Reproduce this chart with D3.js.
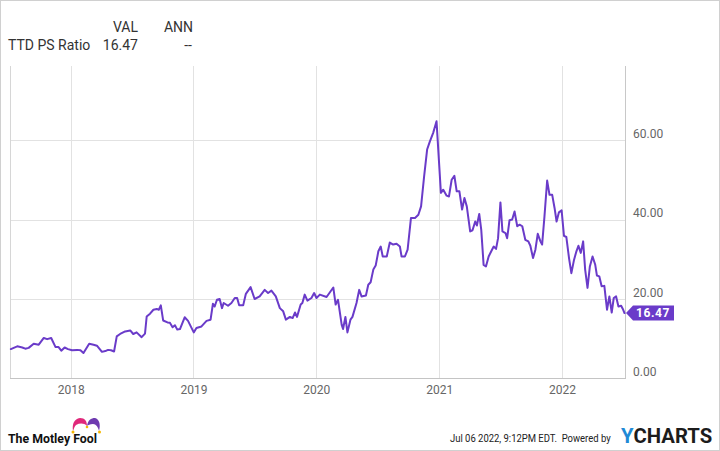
<!DOCTYPE html>
<html>
<head>
<meta charset="utf-8">
<script src="https://cdn.jsdelivr.net/npm/d3@7"></script>
<style>
  html, body { margin: 0; padding: 0; background: #fff; }
  svg { display: block; font-family: Roboto, "Noto Sans", sans-serif; }
</style>
</head>
<body>
<svg id="chart" width="720" height="451"></svg>
<script>
// ---- data ----
const seriesName = "TTD PS Ratio";
const lastValue = "16.47";
const annValue = "--";
const dates = [
  "2017-07-07","2017-07-26","2017-08-10","2017-08-19","2017-08-29","2017-09-13","2017-09-28","2017-10-13","2017-10-23","2017-11-04",
  "2017-11-17","2017-11-26","2017-12-04","2017-12-14","2017-12-24",
  "2018-01-05","2018-01-20","2018-01-30","2018-02-08","2018-02-25","2018-03-10","2018-03-20","2018-04-04","2018-04-14","2018-04-22",
  "2018-05-01","2018-05-10","2018-05-18","2018-05-28","2018-06-12","2018-06-27","2018-07-06","2018-07-16","2018-07-31","2018-08-10",
  "2018-08-15","2018-08-25","2018-09-04","2018-09-14","2018-09-20","2018-09-26","2018-10-03","2018-10-16","2018-10-23","2018-10-31",
  "2018-11-07","2018-11-14","2018-11-22","2018-12-06","2018-12-16",
  "2019-01-02","2019-01-10","2019-01-25","2019-02-09","2019-02-21","2019-02-28","2019-03-05","2019-03-12","2019-03-20","2019-03-27",
  "2019-04-01","2019-04-14","2019-04-24","2019-05-04","2019-05-11","2019-05-17","2019-05-29","2019-06-06","2019-06-20","2019-07-02",
  "2019-07-17","2019-08-01","2019-08-11","2019-08-21","2019-09-03","2019-09-15","2019-09-25","2019-10-03","2019-10-15","2019-10-23",
  "2019-10-30","2019-11-05","2019-11-16","2019-11-21","2019-11-28","2019-12-06","2019-12-18","2019-12-26",
  "2020-01-02","2020-01-12","2020-02-01","2020-02-11","2020-02-21","2020-02-28","2020-03-06","2020-03-17","2020-03-21","2020-03-28",
  "2020-04-03","2020-04-12","2020-04-18","2020-04-30","2020-05-08","2020-05-15","2020-05-28","2020-06-04","2020-06-11","2020-06-19",
  "2020-06-26","2020-07-04","2020-07-11","2020-07-17","2020-07-29","2020-08-07","2020-08-17","2020-08-27","2020-09-06","2020-09-11",
  "2020-09-21","2020-09-29","2020-10-09","2020-10-21","2020-10-31","2020-11-08","2020-11-17","2020-11-26","2020-12-04","2020-12-14",
  "2020-12-24",
  "2021-01-06","2021-01-13","2021-01-23","2021-01-30","2021-02-07","2021-02-15","2021-02-22","2021-03-02","2021-03-10","2021-03-17",
  "2021-03-24","2021-04-03","2021-04-10","2021-04-18","2021-04-23","2021-04-30","2021-05-06","2021-05-13","2021-05-20","2021-05-28",
  "2021-06-07","2021-06-12","2021-06-19","2021-06-25","2021-07-02","2021-07-08","2021-07-17","2021-07-22","2021-07-29","2021-08-06",
  "2021-08-13","2021-08-21","2021-08-28","2021-09-05","2021-09-14","2021-09-23","2021-09-29","2021-10-07","2021-10-14","2021-10-21",
  "2021-10-29","2021-11-03","2021-11-10","2021-11-18","2021-11-25","2021-12-03","2021-12-10","2021-12-16","2021-12-23","2021-12-31",
  "2022-01-07","2022-01-14","2022-01-22","2022-01-29","2022-02-06","2022-02-13","2022-02-19","2022-02-26","2022-03-05","2022-03-11",
  "2022-03-18","2022-03-25","2022-04-02","2022-04-10","2022-04-15","2022-04-22","2022-04-29","2022-05-07","2022-05-15","2022-05-22",
  "2022-05-29","2022-06-04","2022-06-11","2022-06-18","2022-06-26","2022-07-01","2022-07-06"
];
const values = [
  7.4,8.1,7.8,7.5,7.7,8.75,8.5,10.2,9.9,10.2,
  7.9,7.9,7.0,7.8,7.4,
  7.1,7.2,7.1,6.4,8.75,8.5,8.25,6.7,6.9,7.2,
  7.1,6.8,10.6,11.2,11.85,12.1,11.2,11.6,10.4,11.3,
  15.6,16.3,17.3,17.5,17.3,18.4,14.6,14.1,14.0,12.9,
  13.4,12.3,12.45,15.4,14.5,
  11.6,12.7,13.1,14.5,14.8,18.8,18.1,19.8,20.0,17.7,
  19.0,18.3,19.0,20.25,20.25,18.4,18.4,21.3,23.0,20.0,
  20.65,22.3,21.5,22.1,20.65,17.7,16.9,14.8,15.5,15.2,
  16.6,15.5,18.6,19.0,21.1,19.6,20.25,21.5,
  20.25,21.1,20.5,21.7,22.9,18.6,19.8,13.5,12.45,15.5,
  11.6,14.8,15.5,19.0,22.3,20.65,20.9,23.6,24.2,27.4,
  28.4,32.0,33.2,30.7,30.7,34.2,33.7,33.9,33.2,30.7,
  30.7,32.4,40.4,40.4,41.2,43.3,50.8,57.6,59.6,61.8,
  64.7,
  46.7,47.5,46.0,45.8,50.0,51.0,47.1,47.1,42.5,45.4,
  43.3,37.0,37.3,39.5,38.5,41.4,37.4,28.6,28.2,30.7,
  32.4,33.2,32.6,35.3,44.3,37.0,36.6,35.3,39.8,40.0,
  42.0,38.3,38.7,38.3,34.9,34.5,33.4,30.3,32.4,36.4,
  34.5,33.7,40.8,49.8,46.2,46.2,42.9,39.5,41.8,42.3,
  35.9,35.6,30.3,26.5,29.9,32.0,33.4,31.6,34.5,27.4,
  22.8,28.2,30.7,28.6,25.9,25.7,23.2,23.3,17.3,20.65,
  16.6,20.25,20.65,18.1,18.3,17.5,16.47
];
const yTicks = [0, 20, 40, 60];
const xTickYears = ["2018", "2019", "2020", "2021", "2022"];
const domainStart = "2017-07-06";
const domainEnd = "2022-07-06";

// ---- layout ----
const W = 720, H = 451;
const plot = { left: 10, right: 625, top: 66, bottom: 378.5 };
const lineColor = "#6a3bc9";
const parse = d3.timeParse("%Y-%m-%d");
const data = dates.map((d, i) => ({ date: parse(d), value: values[i] }));

const svg = d3.select("#chart");

// outer frame
svg.append("rect").attr("x", 0.5).attr("y", 0.5).attr("width", W - 1).attr("height", H - 1)
  .attr("fill", "#fff").attr("stroke", "#d0d0d0");

const x = d3.scaleTime()
  .domain([parse(domainStart), parse(domainEnd)])
  .range([plot.left + 0.5, plot.right - 0.5]);
const y = d3.scaleLinear().domain([0, 60]).range([plot.bottom, 140]);

// horizontal grid
const gridColor = "#e2e2e2";
svg.append("g").selectAll("line").data(yTicks.filter(t => t > 0)).join("line")
  .attr("x1", plot.left).attr("x2", plot.right)
  .attr("y1", d => Math.round(y(d)) + 0.5).attr("y2", d => Math.round(y(d)) + 0.5)
  .attr("stroke", gridColor).attr("stroke-width", 1);

// vertical grid at year starts
const yearDates = xTickYears.map(s => parse(s + "-01-01"));
svg.append("g").selectAll("line").data(yearDates).join("line")
  .attr("x1", d => Math.round(x(d)) + 0.5).attr("x2", d => Math.round(x(d)) + 0.5)
  .attr("y1", plot.top).attr("y2", plot.bottom)
  .attr("stroke", gridColor).attr("stroke-width", 1);

// plot frame: left, right, bottom
svg.append("line").attr("x1", plot.left + 0.5).attr("x2", plot.left + 0.5)
  .attr("y1", plot.top).attr("y2", plot.bottom).attr("stroke", "#d6d6d6");
svg.append("line").attr("x1", plot.right + 0.5).attr("x2", plot.right + 0.5)
  .attr("y1", plot.top).attr("y2", plot.bottom).attr("stroke", "#c8c8c8");
svg.append("line").attr("x1", plot.left).attr("x2", plot.right + 1)
  .attr("y1", Math.round(plot.bottom) - 0.5).attr("y2", Math.round(plot.bottom) - 0.5)
  .attr("stroke", "#c4c4c4");

// x axis labels
const xAxis = d3.axisBottom(x).tickValues(yearDates).tickFormat(d3.timeFormat("%Y")).tickSize(0).tickPadding(0);
const gx = svg.append("g").attr("transform", `translate(0, ${plot.bottom + 4})`).call(xAxis);
gx.select(".domain").remove();
gx.selectAll("text").attr("font-size", 12).attr("fill", "#666").attr("font-family", "Roboto")
  .attr("dy", "0.95em");

// y axis labels (right side, above the grid line)
const yAxis = d3.axisRight(y).tickValues(yTicks).tickFormat(d3.format(".2f")).tickSize(0).tickPadding(0);
const gy = svg.append("g").attr("transform", `translate(${plot.right + 8}, 0)`).call(yAxis);
gy.select(".domain").remove();
gy.selectAll("text").attr("font-size", 12).attr("fill", "#666").attr("font-family", "Roboto")
  .attr("dy", "-0.22em");

// line
const line = d3.line().x(d => x(d.date)).y(d => y(d.value)).curve(d3.curveLinear);
svg.append("path").datum(data).attr("d", line)
  .attr("fill", "none").attr("stroke", lineColor).attr("stroke-width", 2)
  .attr("stroke-linejoin", "round").attr("stroke-linecap", "round");

// last value flag
const last = data[data.length - 1];
const ly = y(last.value);
const lx = x(last.date) + 1.5;
const fg = svg.append("g");
fg.append("path")
  .attr("d", `M${lx},${ly} L${lx + 7},${ly - 7.5} L${lx + 48},${ly - 7.5} L${lx + 48},${ly + 7.5} L${lx + 7},${ly + 7.5} Z`)
  .attr("fill", lineColor);
fg.append("text").attr("x", lx + 10).attr("y", ly).attr("dy", "0.36em")
  .attr("font-size", 12).attr("font-weight", "bold").attr("fill", "#fff")
  .attr("letter-spacing", "0.6px").text(lastValue);

// header table
const hdr = svg.append("g").attr("font-size", 14).attr("fill", "#333").attr("font-family", "Roboto");
hdr.append("text").attr("x", 138).attr("y", 32).attr("text-anchor", "end").text("VAL");
hdr.append("text").attr("x", 193).attr("y", 32).attr("text-anchor", "end").text("ANN");
hdr.append("text").attr("x", 8).attr("y", 50).text(seriesName);
hdr.append("text").attr("x", 138).attr("y", 50).attr("text-anchor", "end").text(lastValue);
hdr.append("text").attr("x", 192).attr("y", 50).attr("text-anchor", "end").text(annValue);

// helper: place a text horizontally squeezed to a target width
function fitText(parent, tx, ty, width, attrs, build) {
  const g = parent.append("g");
  const t = g.append("text").attr("x", 0).attr("y", 0);
  Object.entries(attrs).forEach(([k, v]) => t.attr(k, v));
  build(t);
  const natural = t.node().getComputedTextLength();
  const s = width / natural;
  g.attr("transform", `translate(${tx},${ty}) scale(${s},1)`);
  return g;
}

// footer: Motley Fool logo
const mf = svg.append("g");
fitText(mf, 8, 443, 89, { "font-size": 12, "font-weight": "bold", fill: "#111" }, t => t.text("The Motley Fool"));
// jester hat
mf.append("path").attr("d", "M73,431 C72,424 74,419 80,418 C85,418 87,421 87,426 C84,423 80,423 76,425 C74,427 74,429 73,431 Z")
  .attr("fill", "#e0287a");
mf.append("path").attr("d", "M87,426 C88,420 91,418 95,418 C99,419 101,424 99,431 C98,427 96,424 93,424 C90,424 88,425 87,426 Z")
  .attr("fill", "#6e3ab0");
mf.append("circle").attr("cx", 73).attr("cy", 432).attr("r", 1.5).attr("fill", "#f5b800");
mf.append("circle").attr("cx", 87).attr("cy", 427).attr("r", 1.3).attr("fill", "#f5b800");
mf.append("circle").attr("cx", 99.5).attr("cy", 432).attr("r", 1.5).attr("fill", "#f5b800");

// footer: timestamp and YCharts
fitText(svg, 450, 442, 161, { "font-size": 11.5, fill: "#222", "xml:space": "preserve" },
  t => t.text("Jul 06 2022, 9:12PM EDT.  Powered by"));
fitText(svg, 621, 443, 91, { "font-size": 20, "font-weight": "bold" }, t => {
  t.append("tspan").attr("fill", "#1f8ad6").text("Y");
  t.append("tspan").attr("fill", "#1c1c1c").text("CHARTS");
});
</script>
</body>
</html>
